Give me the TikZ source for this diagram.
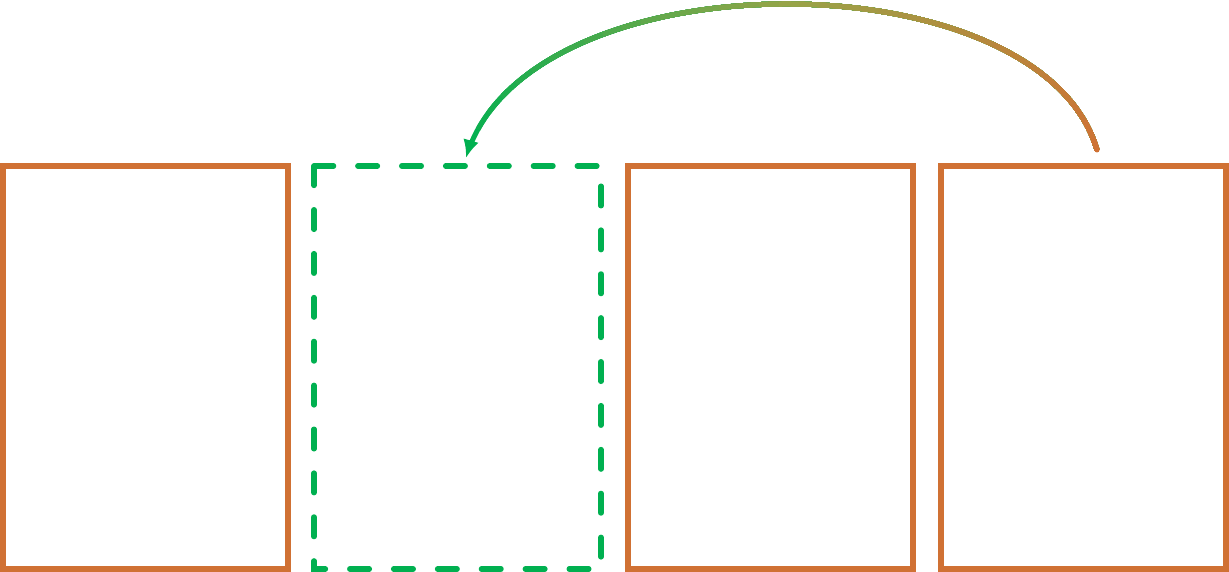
\documentclass[tikz,border=0pt]{standalone}
\usetikzlibrary{arrows.meta,calc}
\definecolor{myorange}{RGB}{208,113,52}
\definecolor{myolive}{RGB}{152,164,72}
\definecolor{mygreen}{RGB}{0,176,80}
\begin{document}
\begin{tikzpicture}[x=1pt,y=-1pt,
  slot/.style={draw=myorange,line width=5.5pt,minimum width=285pt,minimum height=403pt,inner sep=0pt,outer sep=0pt},
  emptyslot/.style={draw=none,minimum width=287pt,minimum height=403pt,inner sep=0pt,outer sep=0pt},
  dashborder/.style={draw=mygreen,line width=5.5pt,line cap=round,dash pattern=on 19.5pt off 24.39pt},
  arcline/.style={line width=5pt,line cap=butt}]
\useasboundingbox (0,0) rectangle (1229,572);
\node[slot] (b1) at (145.5,367.5) {};
\node[emptyslot] (b2) at (457.5,367.5) {};
\node[slot] (b3) at (770.5,367.5) {};
\node[slot] (b4) at (1083.5,367.5) {};
\draw[dashborder] (b2.north west) -- (b2.north east) -- (b2.south east) -- (b2.south west) -- cycle;
\coordinate (s) at (1097,150);
\coordinate (c1) at (1040,-46);
\coordinate (c2) at (525,-46);
\coordinate (e) at (466,158);
\coordinate (a1) at ($(e)!18pt!(c2)$);
\foreach \i in {36,35,...,0}{
  \pgfmathsetmacro\arclen{20*\i+12}
  \ifdim\arclen pt<371pt
    \pgfmathtruncatemacro\wt{\arclen/3.71}
    \def\segcol{myolive!\wt!myorange}
  \else
    \pgfmathtruncatemacro\wt{(\arclen-371)/3.72}
    \def\segcol{mygreen!\wt!myolive}
  \fi
  \draw[arcline,draw=\segcol,dash pattern=on \arclen pt off 5000pt] (s) .. controls (c1) and (c2) .. (e);
}
\fill[myorange] (s) circle (2.5pt);
\draw[line width=5pt,draw=mygreen,-{Latex[length=18pt,width=16pt]}] (a1) -- (e);
\end{tikzpicture}
\end{document}
